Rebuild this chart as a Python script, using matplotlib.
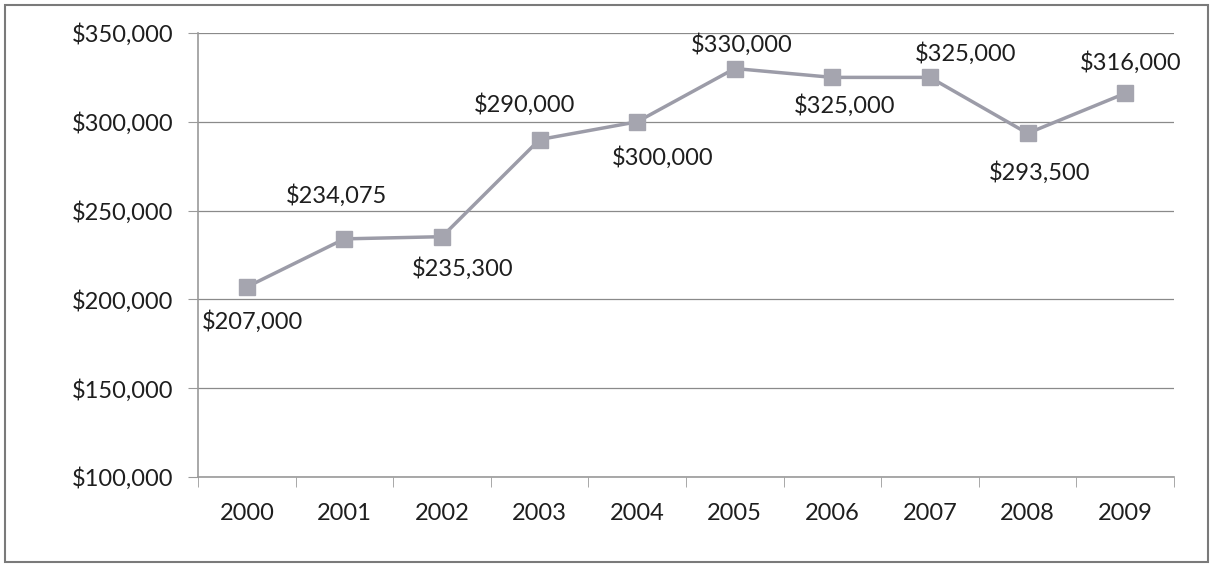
import matplotlib.pyplot as plt
from matplotlib.patches import Rectangle
from matplotlib.ticker import FuncFormatter, FixedLocator

# Median price by year
years = ["2000", "2001", "2002", "2003", "2004", "2005", "2006", "2007", "2008", "2009"]
prices = [207000, 234075, 235300, 290000, 300000, 330000, 325000, 325000, 293500, 316000]

# label offsets from each point, in points (x, y)
label_dx = [4, -6, 15, -11, 18, 5, 9, 26, 9, 4]
label_dy = [-25, 31, -23, 25, -26, 17, -20, 17, -28, 22]

plt.rcParams['font.family'] = ['Lato', 'DejaVu Sans']

fig = plt.figure(figsize=(12.12, 5.65), dpi=100)
ax = fig.add_axes([0.1634, 0.1558, 0.8052, 0.7858])

# outer chart frame
fig.patches.append(Rectangle((0.004, 0.006), 0.993, 0.985, transform=fig.transFigure,
                             fill=False, edgecolor='#7a7a7a', linewidth=1.5))

x = list(range(len(years)))
ax.plot(x, prices, color='#9c9ca8', linewidth=2.5, marker='s', markersize=11,
        markerfacecolor='#a5a5af', markeredgecolor='#a5a5af', zorder=3)

for xi, val, dx, dy in zip(x, prices, label_dx, label_dy):
    ax.annotate("${:,.0f}".format(val), (xi, val), xytext=(dx, dy), textcoords='offset points',
                ha='center', va='center', fontsize=17, color='#1e1e1e')

ax.set_xlim(-0.5, len(years) - 0.5)
ax.set_ylim(100000, 350000)
ax.set_yticks(range(100000, 350001, 50000))
ax.yaxis.set_major_formatter(FuncFormatter(lambda v, p: "${:,.0f}".format(v)))
ax.set_xticks(x)
ax.set_xticklabels(years)
ax.xaxis.set_minor_locator(FixedLocator([i - 0.5 for i in range(len(years) + 1)]))

ax.grid(axis='y', color='#8a8a8a', linewidth=0.9)
ax.set_axisbelow(True)
for s in ['top', 'right']:
    ax.spines[s].set_visible(False)
for s in ['left', 'bottom']:
    ax.spines[s].set_color('#9a9a9a')
    ax.spines[s].set_linewidth(1.2)

ax.tick_params(axis='x', which='major', length=0, pad=19, labelsize=17, labelcolor='#1e1e1e')
ax.tick_params(axis='x', which='minor', length=7, color='#9a9a9a')
ax.tick_params(axis='y', length=7, color='#9a9a9a', pad=11, labelsize=17, labelcolor='#1e1e1e')

fig.savefig("out.png", dpi=100)
